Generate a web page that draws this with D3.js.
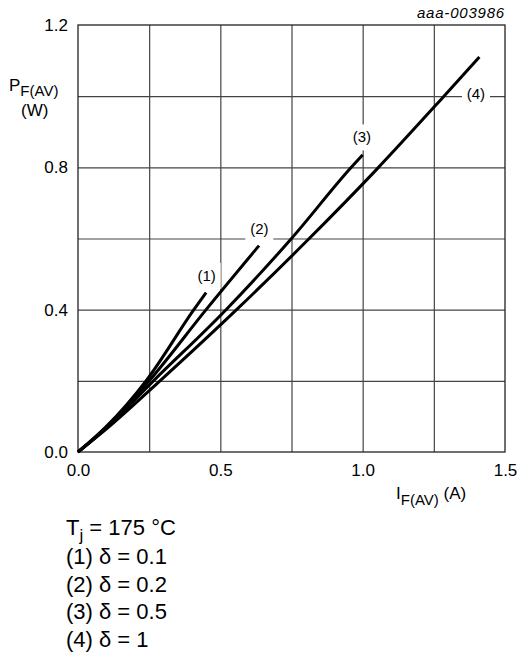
<!DOCTYPE html>
<html lang="en">
<head>
<meta charset="UTF-8">
<title>Forward power dissipation</title>
<script src="https://d3js.org/d3.v7.min.js"></script>
<style>
    body { margin: 0; background: #fff; }
    text { font-family: 'Liberation Sans', Arial, sans-serif; fill: #000; }
</style>
</head>
<body>
<div id="chart"></div>
<script>
// curves: [I_F(AV) in A, P_F(AV) in W]
const curve1 = [[0, 0], [0.1, 0.072], [0.239, 0.2], [0.407, 0.4], [0.45, 0.448]];
const curve2 = [[0, 0], [0.1, 0.07], [0.25, 0.2], [0.45, 0.4], [0.636, 0.58]];
const curve3 = [[0, 0], [0.1, 0.068], [0.265, 0.2], [0.52, 0.4], [0.75, 0.6], [0.96, 0.8], [1.0, 0.835]];
const curve4 = [[0, 0], [0.1, 0.065], [0.288, 0.2], [0.557, 0.4], [0.80, 0.59], [1.05, 0.795], [1.28, 0.995], [1.41, 1.11]];
const curveNames = ["(1)", "(2)", "(3)", "(4)"];
const labelAt = [[0.452, 0.495], [0.637, 0.626], [0.997, 0.884], [1.398, 1.005]];

const xTicks = [0, 0.5, 1.0, 1.5];
const yTicks = [0, 0.4, 0.8, 1.2];
const xGrid = [0.25, 0.5, 0.75, 1.0, 1.25];
const yGrid = [0.2, 0.4, 0.6, 0.8, 1.0];
const legendLines = ["(1) δ = 0.1", "(2) δ = 0.2", "(3) δ = 0.5", "(4) δ = 1"];

const W = 517, H = 657;
const plotL = 78, plotR = 505, plotT = 25, plotB = 452;

const svg = d3.select("#chart").append("svg")
    .attr("width", W).attr("height", H);

const x = d3.scaleLinear().domain([0, 1.5]).range([plotL, plotR]);
const y = d3.scaleLinear().domain([0, 1.2]).range([plotB, plotT]);

// grid
svg.append("g")
    .attr("transform", `translate(0,${plotB})`)
    .call(d3.axisBottom(x).tickValues(xGrid).tickSize(-(plotB - plotT)).tickFormat(""))
    .call(g => g.select(".domain").remove())
    .call(g => g.selectAll("line").attr("stroke", "#444").attr("stroke-width", 1.2));
svg.append("g")
    .attr("transform", `translate(${plotL},0)`)
    .call(d3.axisLeft(y).tickValues(yGrid).tickSize(-(plotR - plotL)).tickFormat(""))
    .call(g => g.select(".domain").remove())
    .call(g => g.selectAll("line").attr("stroke", "#444").attr("stroke-width", 1.2));

// frame
svg.append("rect")
    .attr("x", plotL).attr("y", plotT)
    .attr("width", plotR - plotL).attr("height", plotB - plotT)
    .attr("fill", "none").attr("stroke", "#222").attr("stroke-width", 1.3);

// tick labels
svg.append("g")
    .attr("transform", `translate(0,${plotB})`)
    .call(d3.axisBottom(x).tickValues(xTicks).tickSize(0).tickPadding(12).tickFormat(d3.format(".1f")))
    .call(g => g.select(".domain").remove())
    .call(g => g.selectAll("text").attr("font-size", 17).attr("font-family", null));
svg.append("g")
    .attr("transform", `translate(${plotL},0)`)
    .call(d3.axisLeft(y).tickValues(yTicks).tickSize(0).tickPadding(10).tickFormat(d3.format(".1f")))
    .call(g => g.select(".domain").remove())
    .call(g => g.selectAll("text").attr("font-size", 17).attr("font-family", null));

// curves
const line = d3.line()
    .x(d => x(d[0]))
    .y(d => y(d[1]))
    .curve(d3.curveMonotoneX);

[curve1, curve2, curve3, curve4].forEach(c => {
    svg.append("path")
        .datum(c)
        .attr("fill", "none")
        .attr("stroke", "#000")
        .attr("stroke-width", 3)
        .attr("d", line);
});

// curve labels with white backing
curveNames.forEach((name, i) => {
    const cx = x(labelAt[i][0]), cy = y(labelAt[i][1]);
    svg.append("rect")
        .attr("x", cx - 14).attr("y", cy - 13)
        .attr("width", 28).attr("height", 26)
        .attr("fill", "#fff");
    svg.append("text")
        .attr("x", cx).attr("y", cy + 5)
        .attr("text-anchor", "middle")
        .attr("font-size", 15)
        .text(name);
});

// code label
svg.append("text")
    .attr("x", 505).attr("y", 18)
    .attr("text-anchor", "end")
    .attr("font-size", 15)
    .attr("font-style", "italic")
    .attr("letter-spacing", 0.8)
    .text("aaa-003986");

// y axis title
const yt = svg.append("text").attr("x", 9).attr("y", 91).attr("font-size", 17);
yt.append("tspan").text("P");
yt.append("tspan").attr("font-size", 15).attr("dy", 5).text("F(AV)");
svg.append("text").attr("x", 21).attr("y", 116).attr("font-size", 17).text("(W)");

// x axis title
const xt = svg.append("text").attr("x", 396).attr("y", 499).attr("font-size", 17);
xt.append("tspan").text("I");
xt.append("tspan").attr("font-size", 15).attr("dy", 6).text("F(AV)");
xt.append("tspan").attr("dy", -6).text(" (A)");

// legend
const lg = svg.append("text").attr("x", 66).attr("y", 535).attr("font-size", 22);
lg.append("tspan").text("T");
lg.append("tspan").attr("font-size", 17).attr("dy", 6).text("j");
lg.append("tspan").attr("dy", -6).text(" = 175 °C");

svg.selectAll(".legend-line")
    .data(legendLines)
    .enter()
    .append("text")
    .attr("class", "legend-line")
    .attr("x", 66)
    .attr("y", (d, i) => 564 + i * 27.5)
    .attr("font-size", 22)
    .text(d => d);
</script>
</body>
</html>
